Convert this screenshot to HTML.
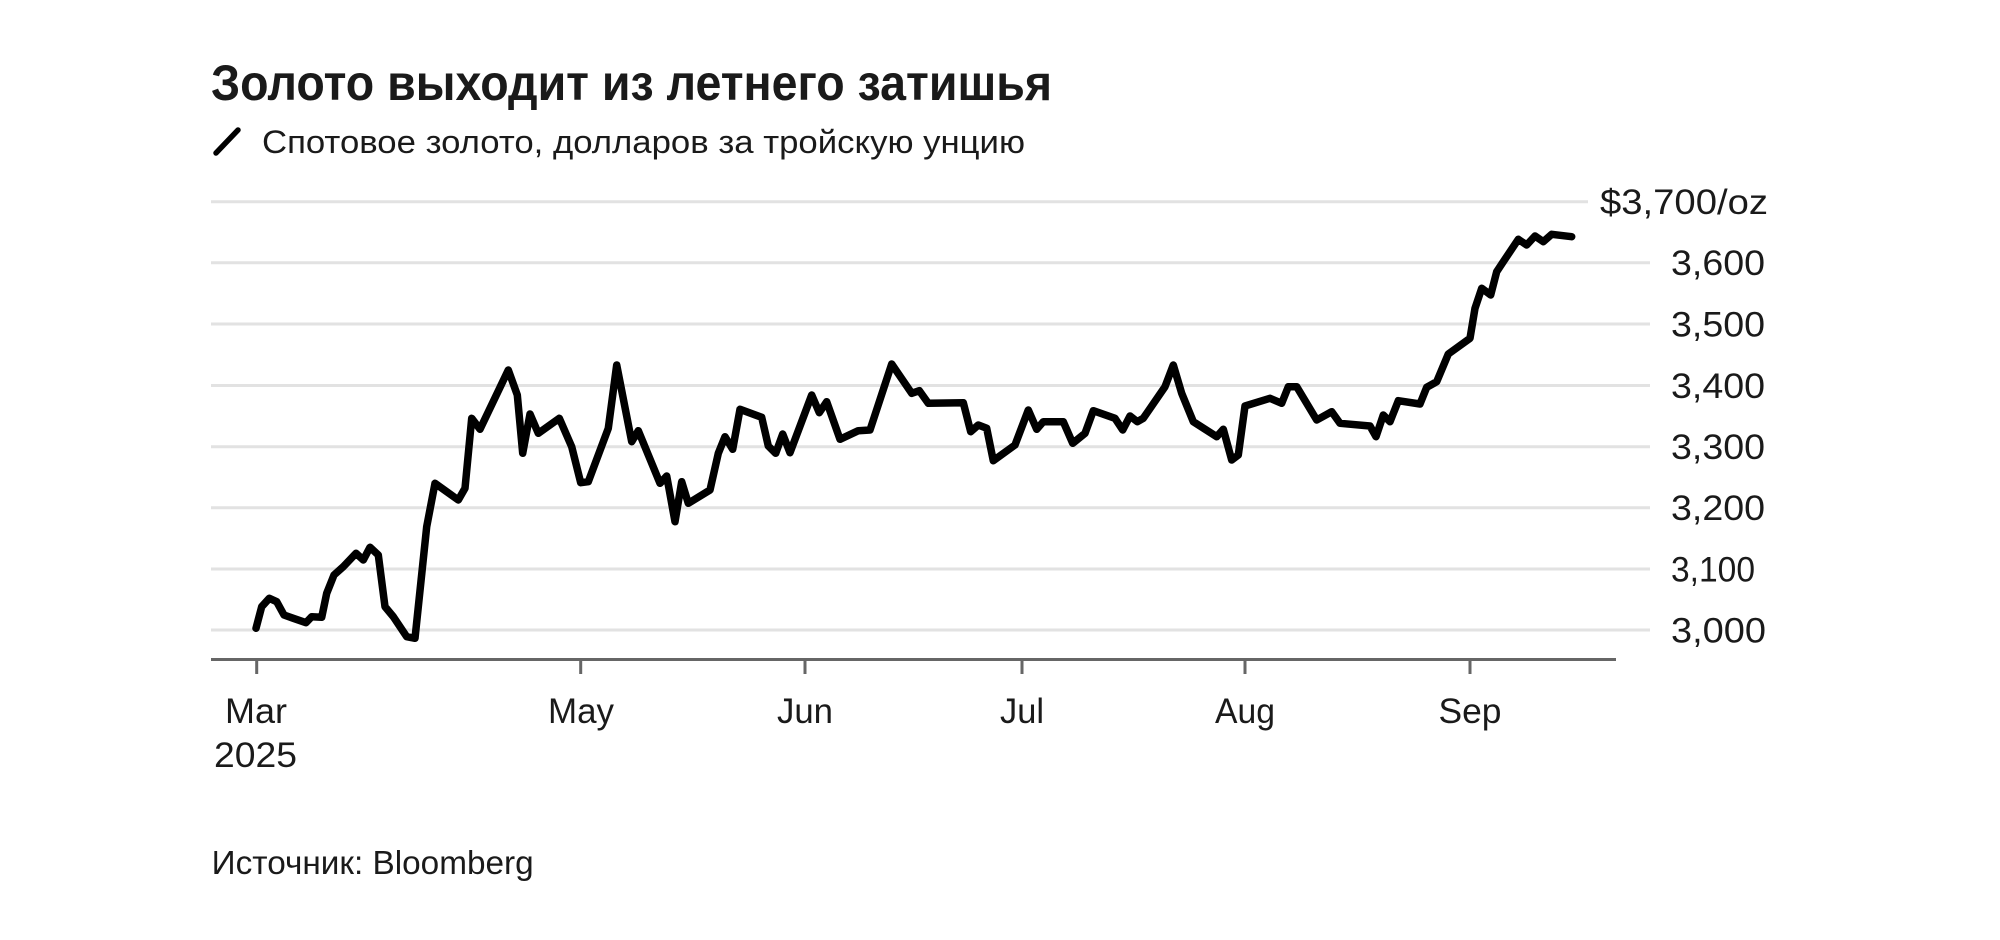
<!DOCTYPE html>
<html>
<head>
<meta charset="utf-8">
<style>
  html,body{margin:0;padding:0;background:#fff;}
  svg{display:block;}
  text{font-family:"Liberation Sans","Noto Sans CJK SC",sans-serif;fill:#1a1a1a;}
</style>
</head>
<body>
<svg width="2000" height="940" viewBox="0 0 2000 940" xmlns="http://www.w3.org/2000/svg">
  <rect width="2000" height="940" fill="#fff"/>

  <!-- Title -->
  <text x="211" y="100" font-size="50" font-weight="bold" textLength="841" lengthAdjust="spacingAndGlyphs">Золото выходит из летнего затишья</text>

  <!-- Legend -->
  <line x1="216" y1="153" x2="238" y2="130" stroke="#000" stroke-width="5.5" stroke-linecap="round"/>
  <text x="262" y="153" font-size="32" textLength="763" lengthAdjust="spacingAndGlyphs">Спотовое золото, долларов за тройскую унцию</text>

  <!-- Gridlines -->
  <g stroke="#e2e2e2" stroke-width="3">
    <line x1="211" y1="201.7" x2="1588" y2="201.7"/>
    <line x1="211" y1="262.7" x2="1650" y2="262.7"/>
    <line x1="211" y1="324" x2="1650" y2="324"/>
    <line x1="211" y1="385.5" x2="1650" y2="385.5"/>
    <line x1="211" y1="446.7" x2="1650" y2="446.7"/>
    <line x1="211" y1="507.7" x2="1650" y2="507.7"/>
    <line x1="211" y1="569" x2="1650" y2="569"/>
    <line x1="211" y1="630" x2="1650" y2="630"/>
  </g>

  <!-- Y labels -->
  <g font-size="35">
    <text x="1600" y="214" textLength="168" lengthAdjust="spacingAndGlyphs">$3,700/oz</text>
    <text x="1671" y="275" textLength="94" lengthAdjust="spacingAndGlyphs">3,600</text>
    <text x="1671" y="336.5" textLength="94" lengthAdjust="spacingAndGlyphs">3,500</text>
    <text x="1671" y="398" textLength="94" lengthAdjust="spacingAndGlyphs">3,400</text>
    <text x="1671" y="459" textLength="94" lengthAdjust="spacingAndGlyphs">3,300</text>
    <text x="1671" y="520" textLength="94" lengthAdjust="spacingAndGlyphs">3,200</text>
    <text x="1671" y="581.5" textLength="84" lengthAdjust="spacingAndGlyphs">3,100</text>
    <text x="1671" y="642.5" textLength="95" lengthAdjust="spacingAndGlyphs">3,000</text>
  </g>

  <!-- X axis -->
  <line x1="211" y1="659.5" x2="1616" y2="659.5" stroke="#666" stroke-width="3"/>
  <g stroke="#666" stroke-width="3">
    <line x1="256.7" y1="659" x2="256.7" y2="674"/>
    <line x1="580.7" y1="659" x2="580.7" y2="674"/>
    <line x1="805" y1="659" x2="805" y2="674"/>
    <line x1="1022" y1="659" x2="1022" y2="674"/>
    <line x1="1245" y1="659" x2="1245" y2="674"/>
    <line x1="1470" y1="659" x2="1470" y2="674"/>
  </g>
  <g font-size="35" text-anchor="middle">
    <text x="256" y="723" textLength="62" lengthAdjust="spacingAndGlyphs">Mar</text>
    <text x="255.5" y="767" textLength="83" lengthAdjust="spacingAndGlyphs">2025</text>
    <text x="581" y="723" textLength="66" lengthAdjust="spacingAndGlyphs">May</text>
    <text x="805" y="723" textLength="56" lengthAdjust="spacingAndGlyphs">Jun</text>
    <text x="1022" y="723" textLength="44" lengthAdjust="spacingAndGlyphs">Jul</text>
    <text x="1245" y="723" textLength="60" lengthAdjust="spacingAndGlyphs">Aug</text>
    <text x="1470" y="723" textLength="63" lengthAdjust="spacingAndGlyphs">Sep</text>
  </g>

  <!-- Data line -->
  <polyline fill="none" stroke="#000" stroke-width="7.5" stroke-linejoin="round" stroke-linecap="round" points="
256,628.3 261.7,606.7 269.3,598.3 276.7,601.7 284,615 293.3,618.3 306,622.7 311.7,616.7 321.7,617.3 326.7,593.3
334,575 343.3,566.7 356,553.3 363.3,560 370,547.3 378.3,555 385,606.7 393.3,616.7 406.7,636.7 415,638.3
426.7,526.7 435,483.3 446.7,491.7 458.3,500 465,488.3 471.7,418.3 480,429.3 508.3,370 517.3,395 522.7,453.3
530,414 538.3,433.3 559.3,418.3 571.7,446.7 580.7,482.7 588.3,481.7 608.3,428.3 616.7,365 631.7,441.7 638.3,430.7
660,483.3 666.7,476 675,521.7 681.7,481.7 688.3,503.3 710,490 718.3,453.3 725,436.7 732.7,449.3 740,409.3
761.7,417.3 768.3,446 775.7,453.3 782.7,434 790,452.7 811.7,395 819.3,412.7 826.7,401.7 840,439.3 858.3,430.7
870,430 891.7,364 911.7,393.3 919.3,390.7 928.3,403.3 963.3,402.7 970.7,431.7 978.3,425 986.7,428.3 993.3,460.7
1015,445 1028.3,410 1036.7,429.3 1043.3,421.7 1063.3,421.7 1072.7,443.3 1085,433.3 1093.3,410.7 1115,418.3 1122.7,430
1130,416 1137.3,421.7 1143.3,418.3 1165,386.7 1173.3,365 1181.7,393.3 1193.3,421.7 1216.7,436.7 1223.3,429.3 1231.7,460
1238.3,455 1245,406 1270,398.3 1281.7,403.3 1288.3,386.7 1296.7,386.7 1316.7,420 1331.7,411.7 1340,423.3 1370,426
1376,436.7 1383.3,415 1390,421.7 1398.3,400.7 1420,404 1426.7,387.3 1436.7,381.7 1448.3,354 1470,338.3 1475,308.3
1481.7,288.3 1490.7,295 1496.7,271.7 1503.3,261.7 1518.3,239.3 1526.7,245 1535,236 1543.3,241.7 1551.7,234.3 1571.7,236.7"/>

  <!-- Source -->
  <text x="211.7" y="874" font-size="33" textLength="322" lengthAdjust="spacingAndGlyphs">Источник: Bloomberg</text>
</svg>
</body>
</html>
